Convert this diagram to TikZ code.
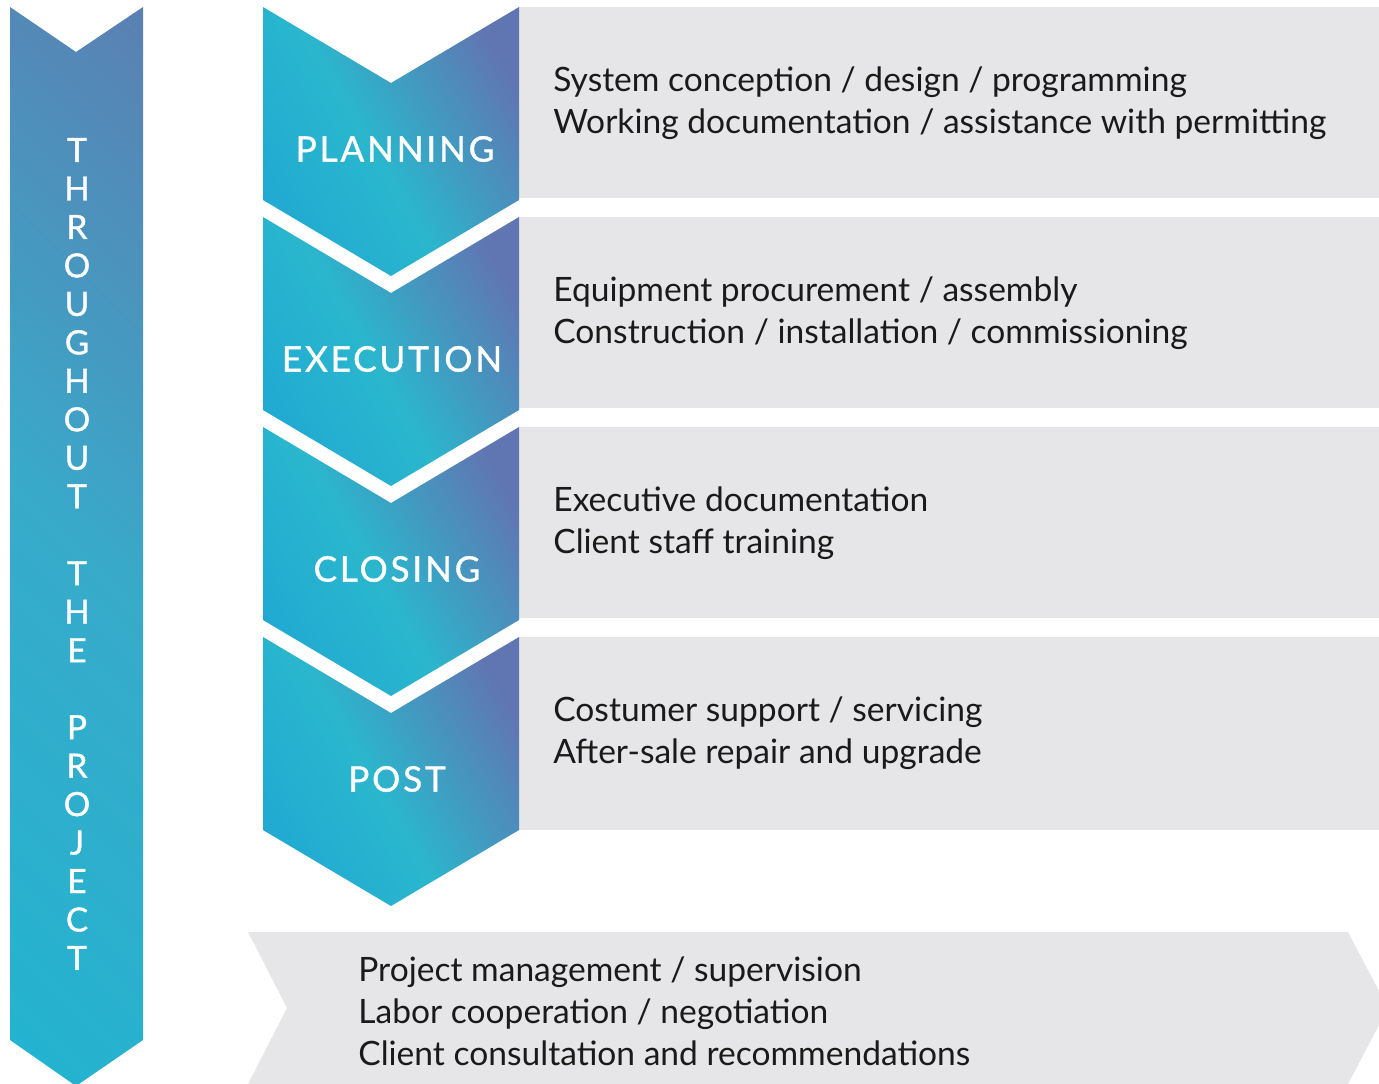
\documentclass[tikz,border=0pt]{standalone}
\usepackage{fontspec}
\setmainfont{Lato}
\newfontfamily\capsfont[LetterSpace=8, FakeBold=1]{Lato}
\usetikzlibrary{positioning}

\definecolor{stagedeep}{HTML}{1DA4D4}
\definecolor{stagecyan}{HTML}{2AB7CD}
\definecolor{stageviolet}{HTML}{6076B2}
\definecolor{bandcyan}{HTML}{22B4D0}
\definecolor{bandmid}{HTML}{38AACA}
\definecolor{bandviolet}{HTML}{5B80B3}
\definecolor{infogray}{HTML}{E6E6E8}
\definecolor{infotext}{HTML}{1A1A1A}

\pgfdeclarehorizontalshading{stageshade}{100bp}{color(0bp)=(stagedeep); color(15bp)=(stagedeep);
    color(46bp)=(stagecyan); color(76bp)=(stageviolet); color(100bp)=(stageviolet)}
\pgfdeclarehorizontalshading{bandshade}{100bp}{color(0bp)=(bandcyan); color(15bp)=(bandcyan);
    color(50bp)=(bandmid); color(85bp)=(bandviolet); color(100bp)=(bandviolet)}

\begin{document}
\begin{tikzpicture}[
    x=0.02cm, y=-0.02cm,
    stage/.style={shading=stageshade, shading angle=30},
    band/.style={shading=bandshade, shading angle=45},
    infobox/.style={fill=infogray},
    stagelabel/.style={text=white, inner sep=0, font=\capsfont\fontsize{20}{24}\selectfont},
    infotxt/.style={text=infotext, align=left, anchor=west, inner sep=0,
                    font=\fontsize{19.1}{23.9}\selectfont}
]
\useasboundingbox (0,0) rectangle (1379,1083);
\clip (0,0) rectangle (1379,1083);

% Gray panels
\path[infobox] (519,7) rectangle (1379,198);
\path[infobox] (519,217) rectangle (1379,408);
\path[infobox] (519,427) rectangle (1379,618);
\path[infobox] (519,637) rectangle (1379,830);
\path[infobox] (248,932) -- (1348,932) -- (1388,1008) -- (1348,1084) -- (248,1084) -- (287,1008) -- cycle;

% Side band
\path[band] (10,7) -- (76,52) -- (143,7) -- (143,1040) -- (76,1086) -- (10,1040) -- cycle;
\node[stagelabel, font=\capsfont\fontsize{19}{21.9}\selectfont, align=center] (side) at (77,554)
    {T\\H\\R\\O\\U\\G\\H\\O\\U\\T\\~\\T\\H\\E\\~\\P\\R\\O\\J\\E\\C\\T};

% Stage chevrons
\path[stage] (263,7) -- (391,83) -- (519,7) -- (519,200) -- (391,276) -- (263,200) -- cycle;
\path[stage] (263,217) -- (391,293) -- (519,217) -- (519,410) -- (391,486) -- (263,410) -- cycle;
\path[stage] (263,427) -- (391,503) -- (519,427) -- (519,620) -- (391,696) -- (263,620) -- cycle;
\path[stage] (263,637) -- (391,713) -- (519,637) -- (519,830) -- (391,906) -- (263,830) -- cycle;

\node[stagelabel] (planning) at (395,149) {PLANNING};
\node[stagelabel] (execution) at (392,359) {EXECUTION};
\node[stagelabel] (closing) at (397,569) {CLOSING};
\node[stagelabel] (post) at (397,779) {POST};

% Panel texts
\node[infotxt] (planningtext) at (553,103)
    {System conception / design / programming\\Working documentation / assistance with permitting};
\node[infotxt] (executiontext) at (553,313)
    {Equipment procurement / assembly\\Construction / installation / commissioning};
\node[infotxt] (closingtext) at (553,523)
    {Executive documentation\\Client staff training};
\node[infotxt] (posttext) at (553,733)
    {Costumer support / servicing\\After-sale repair and upgrade};
\node[infotxt] (throughtext) at (358,1011)
    {Project management / supervision\\Labor cooperation / negotiation\\Client consultation and recommendations};

\end{tikzpicture}
\end{document}
